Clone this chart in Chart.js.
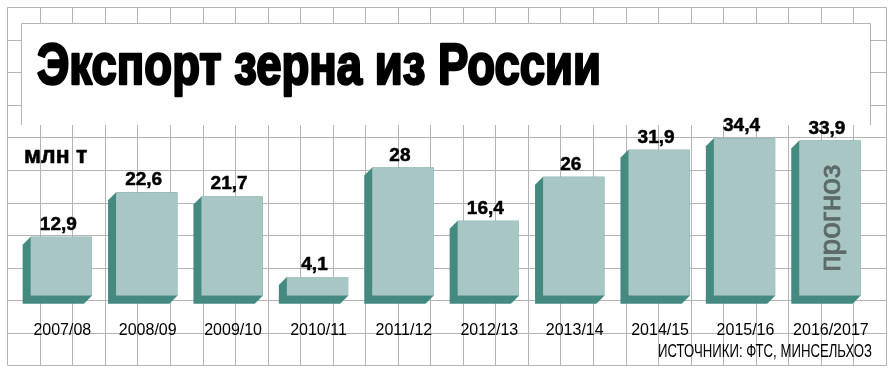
<!DOCTYPE html>
<html>
<head>
<meta charset="utf-8">
<script src="https://cdn.jsdelivr.net/npm/chart.js@4.4.1/dist/chart.umd.min.js"></script>
<style>
  html, body { margin: 0; padding: 0; background: #fff; }
</style>
</head>
<body>
<canvas id="chart" width="896" height="376"></canvas>
<script>
// data
const seasons = ['2007/08', '2008/09', '2009/10', '2010/11', '2011/12', '2012/13', '2013/14', '2014/15', '2015/16', '2016/2017']
const exportMt = [12.9, 22.6, 21.7, 4.1, 28, 16.4, 26, 31.9, 34.4, 33.9]
const isForecast = [false, false, false, false, false, false, false, false, false, true]

const titleText = 'Экспорт зерна из России'
const unitText = 'млн т'
const forecastText = 'прогноз'
const sourceText = 'ИСТОЧНИКИ: ФТС, МИНСЕЛЬХОЗ'

const FRONT = '#a7c6c4'
const SIDE = '#448a81'
const GRID = '#b4b4b4'
const DEPTH = 8

const crisp = v => Math.round(v) + 0.5

// squared paper background + white title box
const backdrop = {
  id: 'backdrop',
  beforeDraw(chart) {
    const ctx = chart.ctx
    ctx.save()
    ctx.fillStyle = '#fff'
    ctx.fillRect(0, 0, chart.width, chart.height)

    const x0 = 7.3, y0 = 7.3, cell = 32.54
    ctx.strokeStyle = GRID
    ctx.lineWidth = 1
    ctx.beginPath()
    for (let i = 0; i <= 27; i++) {
      const x = crisp(x0 + i * cell)
      ctx.moveTo(x, crisp(y0))
      ctx.lineTo(x, crisp(y0 + 11 * cell))
    }
    for (let j = 0; j <= 11; j++) {
      const y = crisp(y0 + j * cell)
      ctx.moveTo(crisp(x0), y)
      ctx.lineTo(crisp(x0 + 27 * cell), y)
    }
    ctx.stroke()

    // title box
    ctx.fillStyle = '#fff'
    ctx.fillRect(21, 23, 850, 102)
    ctx.beginPath()
    ctx.moveTo(21.5, 125)
    ctx.lineTo(21.5, 23.5)
    ctx.lineTo(870.5, 23.5)
    ctx.lineTo(870.5, 125)
    ctx.stroke()

    // heavy title: fill plus a stroke to thicken it
    ctx.fillStyle = '#000'
    ctx.strokeStyle = '#000'
    ctx.lineWidth = 2.6
    ctx.lineJoin = 'round'
    ctx.textAlign = 'left'
    ctx.textBaseline = 'alphabetic'
    ctx.font = 'bold 57px "Liberation Sans", Arial, sans-serif'
    ctx.fillText(titleText, 37, 84, 564)
    ctx.strokeText(titleText, 37, 84, 564)

    ctx.lineWidth = 0.6
    ctx.font = 'bold 23px "Liberation Sans", Arial, sans-serif'
    ctx.fillText(unitText, 24, 163)
    ctx.strokeText(unitText, 24, 163)
    ctx.restore()
  }
}

// the dark left and bottom faces behind each bar
const extrude = {
  id: 'extrude',
  beforeDatasetsDraw(chart) {
    const ctx = chart.ctx
    const meta = chart.getDatasetMeta(0)
    ctx.save()
    ctx.fillStyle = SIDE
    meta.data.forEach(bar => {
      const { x, y, base, width } = bar.getProps(['x', 'y', 'base', 'width'], true)
      const L = x - width / 2, R = x + width / 2
      ctx.beginPath()
      ctx.moveTo(R, y)
      ctx.lineTo(L, y)
      ctx.lineTo(L - DEPTH, y + DEPTH)
      ctx.lineTo(L - DEPTH, base + DEPTH)
      ctx.lineTo(R - DEPTH, base + DEPTH)
      ctx.lineTo(R, base)
      ctx.closePath()
      ctx.fill()
    })
    ctx.restore()
  }
}

// values, season labels, forecast mark and source
const labels = {
  id: 'labels',
  afterDatasetsDraw(chart) {
    const ctx = chart.ctx
    const meta = chart.getDatasetMeta(0)
    ctx.save()
    meta.data.forEach((bar, i) => {
      const { x, y, base } = bar.getProps(['x', 'y', 'base'], true)

      ctx.fillStyle = '#000'
      ctx.strokeStyle = '#000'
      ctx.lineWidth = 0.5
      ctx.textAlign = 'center'
      ctx.textBaseline = 'alphabetic'
      ctx.font = 'bold 19px "Liberation Sans", Arial, sans-serif'
      const v = String(exportMt[i]).replace('.', ',')
      ctx.fillText(v, x - 3, y - 7)
      ctx.strokeText(v, x - 3, y - 7)

      ctx.font = '16px "Liberation Sans", Arial, sans-serif'
      ctx.fillText(seasons[i], x + 1, 335)

      if (isForecast[i]) {
        ctx.save()
        ctx.translate(x + 2, (y + base) / 2)
        ctx.rotate(-Math.PI / 2)
        ctx.fillStyle = '#5d6a69'
        ctx.strokeStyle = '#5d6a69'
        ctx.lineWidth = 0.8
        ctx.font = '30px "Liberation Sans", Arial, sans-serif'
        ctx.textBaseline = 'middle'
        ctx.fillText(forecastText, 0, 0)
        ctx.strokeText(forecastText, 0, 0)
        ctx.restore()
      }
    })

    ctx.fillStyle = '#000'
    ctx.textAlign = 'right'
    ctx.font = '18px "Liberation Sans", Arial, sans-serif'
    ctx.fillText(sourceText, 872, 357, 214)
    ctx.restore()
  }
}

new Chart(document.getElementById('chart'), {
  type: 'bar',
  data: {
    labels: seasons,
    datasets: [{
      data: exportMt,
      backgroundColor: FRONT,
      borderWidth: 0,
      barPercentage: 0.718,
      categoryPercentage: 1
    }]
  },
  options: {
    responsive: false,
    animation: false,
    devicePixelRatio: 1,
    layout: {
      padding: { left: 18.6, right: 23.4, top: 112.7, bottom: 80.3 }
    },
    plugins: {
      legend: { display: false },
      tooltip: { enabled: false }
    },
    scales: {
      x: { display: false },
      y: { display: false, min: 0, max: 40 }
    }
  },
  plugins: [backdrop, extrude, labels]
})
</script>
</body>
</html>
